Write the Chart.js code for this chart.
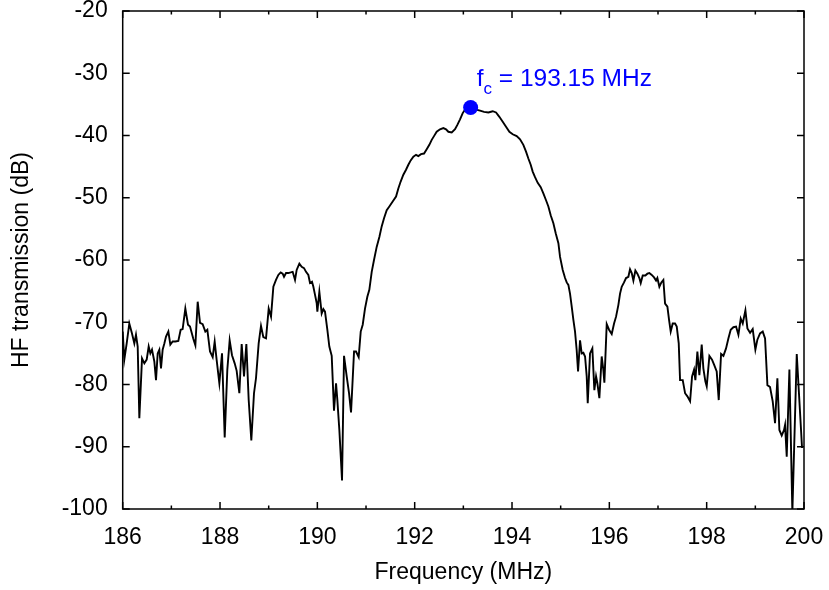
<!DOCTYPE html>
<html>
<head>
<meta charset="utf-8">
<script src="https://cdn.jsdelivr.net/npm/chart.js@4/dist/chart.umd.min.js"></script>
<style>
    html, body { margin: 0; padding: 0; background: #fff; }
    #wrap { width: 829px; height: 590px; position: relative; }
</style>
</head>
<body>
<div id="wrap"><canvas id="chart"></canvas></div>
<script>
// frequency sweep (MHz) and measured transmission (dB)
const freqMHz = [
    186.000, 186.033, 186.082, 186.136, 186.191, 186.239, 186.273, 186.308, 186.342, 186.397,
    186.445, 186.493, 186.534, 186.568, 186.602, 186.650, 186.684, 186.719, 186.753, 186.787,
    186.821, 186.856, 186.890, 186.938, 186.979, 187.027, 187.082,
    187.143, 187.191, 187.232, 187.287, 187.342, 187.383, 187.452, 187.493, 187.541, 187.589,
    187.643, 187.698, 187.739, 187.794, 187.849, 187.890, 187.931, 187.986, 188.041, 188.096,
    188.150, 188.198, 188.246, 188.301, 188.342, 188.397, 188.445, 188.493, 188.541, 188.589,
    188.643, 188.698, 188.739, 188.794, 188.842, 188.890, 188.945, 189.000, 189.048,
    189.096, 189.150, 189.198, 189.246, 189.287, 189.315, 189.356, 189.404, 189.452, 189.493,
    189.541, 189.575, 189.630, 189.678, 189.726, 189.767, 189.815, 189.849, 189.890, 189.918,
    189.952, 189.986,
    190.000, 190.041, 190.089, 190.123, 190.157, 190.205, 190.246, 190.295, 190.342, 190.384,
    190.411, 190.452, 190.507, 190.548, 190.603, 190.651, 190.692, 190.754, 190.795, 190.849,
    190.891, 190.932, 190.979, 191.027,
    191.068, 191.117, 191.164, 191.219, 191.274, 191.322, 191.370, 191.425, 191.479, 191.548,
    191.617, 191.664, 191.712, 191.767, 191.822, 191.870, 191.918, 191.973, 192.028, 192.075,
    192.130, 192.192, 192.247, 192.301, 192.350, 192.397, 192.452, 192.521, 192.589, 192.644,
    192.692, 192.761, 192.829, 192.877, 192.932, 192.987, 193.055, 193.137, 193.240, 193.343,
    193.425, 193.514, 193.603, 193.672, 193.740, 193.809, 193.877, 193.946, 194.014, 194.096,
    194.165, 194.233, 194.288, 194.336, 194.384, 194.425, 194.473, 194.528, 194.590, 194.644,
    194.699, 194.747, 194.795, 194.850, 194.898, 194.953, 194.987,
    195.042, 195.090, 195.124, 195.158, 195.192, 195.227, 195.261, 195.295, 195.329, 195.357,
    195.398, 195.432, 195.466, 195.501, 195.535, 195.556, 195.603, 195.651, 195.692, 195.727,
    195.754, 195.795, 195.843, 195.877, 195.898, 195.946, 195.994, 196.049, 196.097, 196.138,
    196.186, 196.220, 196.254, 196.302, 196.343, 196.391, 196.425, 196.460, 196.494, 196.535,
    196.576, 196.617, 196.645, 196.686, 196.740, 196.782, 196.823, 196.871, 196.919, 196.960,
    196.987, 197.028, 197.069, 197.110, 197.145, 197.193, 197.227, 197.261, 197.302, 197.350,
    197.385, 197.426, 197.453,
    197.508, 197.556, 197.604, 197.659, 197.700, 197.741, 197.768, 197.809, 197.850, 197.898,
    197.932, 197.973, 198.001, 198.056, 198.110, 198.152, 198.206, 198.248, 198.296, 198.344,
    198.398, 198.446, 198.494, 198.549, 198.604, 198.652, 198.700, 198.741, 198.796, 198.837,
    198.892, 198.946, 199.001, 199.042, 199.097, 199.152, 199.200,
    199.248, 199.302, 199.357, 199.405, 199.453, 199.494, 199.542, 199.590, 199.611, 199.645,
    199.700, 199.761, 199.851, 199.960
];
const transDb = [
    -71.5, -76.0, -73.4, -70.2, -71.8, -73.4, -72.0, -73.9, -85.4, -75.8,
    -76.6, -76.0, -73.9, -75.0, -74.4, -76.3, -79.3, -75.0, -74.4, -77.4,
    -74.4, -73.4, -72.3, -71.5, -73.6, -73.1, -73.1,
    -73.0, -71.2, -71.1, -67.8, -70.4, -70.7, -72.7, -73.7, -66.7, -70.1,
    -70.3, -71.5, -71.2, -74.7, -75.6, -73.1, -76.1, -79.8, -75.0, -88.5,
    -77.6, -72.9, -75.3, -76.6, -77.8, -81.4, -73.5, -78.7, -73.5, -82.5,
    -89.0, -81.4, -79.0, -73.4, -70.6, -72.4, -72.6, -67.8, -69.1,
    -64.3, -63.2, -62.4, -62.0, -62.2, -62.7, -62.1, -62.1, -62.0, -61.9,
    -63.2, -61.6, -60.6, -61.1, -61.3, -61.9, -62.4, -63.7, -63.5, -64.3,
    -65.6, -66.9,
    -68.3, -65.1, -68.6, -67.9, -68.3, -71.2, -73.9, -75.4, -84.2, -79.8,
    -82.5, -87.3, -95.4, -75.4, -78.7, -81.4, -84.5, -74.7, -74.7, -75.6,
    -71.5, -70.4, -67.8, -65.9,
    -64.8, -61.9, -60.0, -57.9, -56.3, -54.6, -53.3, -52.0, -51.4, -50.6,
    -49.8, -48.5, -47.4, -46.3, -45.5, -44.7, -44.0, -43.4, -43.1, -43.3,
    -43.0, -42.9, -42.2, -41.5, -40.7, -40.1, -39.4, -39.0, -38.8, -39.0,
    -39.4, -39.5, -39.0, -38.3, -37.4, -36.4, -35.6, -35.5, -35.8, -36.0,
    -36.2, -36.3, -36.1, -36.3, -37.0, -37.8, -38.6, -39.4, -39.8, -40.1,
    -40.6, -41.5, -42.6, -43.7, -44.7, -45.8, -46.7, -47.6, -48.3, -49.3,
    -50.4, -51.4, -52.8, -54.1, -55.7, -57.3, -59.5,
    -61.6, -62.9, -63.6, -64.0, -65.4, -67.5, -69.6, -71.5, -74.5, -77.9,
    -72.9, -75.0, -74.9, -75.5, -78.7, -83.0, -75.0, -74.2, -80.9, -78.7,
    -79.8, -82.2, -75.5, -77.7, -79.7, -70.3, -71.2, -71.9, -70.2, -69.1,
    -67.2, -65.4, -64.3, -63.6, -62.9, -62.7, -61.5, -62.1, -63.3, -61.7,
    -62.2, -62.9, -63.7, -62.5, -62.5, -62.2, -62.1, -62.4, -62.8, -63.3,
    -62.9, -64.3, -63.6, -63.2, -67.0, -67.5, -69.6, -71.5, -70.2, -70.2,
    -70.7, -73.4, -79.3,
    -79.3, -81.4, -81.9, -82.7, -78.7, -77.6, -79.3, -74.7, -78.5, -73.6,
    -77.4, -79.5, -80.3, -75.4, -76.0, -76.8, -77.9, -82.5, -75.1, -75.4,
    -74.2, -72.6, -71.2, -70.8, -70.7, -72.0, -69.4, -70.2, -68.1, -71.0,
    -71.7, -71.1, -74.4, -72.8, -71.8, -71.5, -72.6,
    -80.1, -80.4, -82.7, -86.2, -79.0, -87.3, -88.2, -87.3, -86.5, -91.6,
    -77.6, -100.5, -75.1, -90.2
];

// centre frequency marker
const peakFreq = 193.15;
const peakDb = -35.5;
const peakText = " = 193.15 MHz";

const xMin = 186, xMax = 200, xStep = 2, xMinorStep = 1;
const yMin = -100, yMax = -20, yStep = 10;

const FONT = "'Liberation Sans', Arial, Helvetica, sans-serif";
const BLUE = "#0000ff";

const points = freqMHz.map(function (f, i) { return { x: f, y: transDb[i] }; });

// gnuplot-like frame with inward ticks on all four sides
const framePlugin = {
    id: "frame",
    afterDatasetsDraw: function (chart) {
        const ctx = chart.ctx;
        const a = chart.chartArea;
        const xs = chart.scales.x, ys = chart.scales.y;
        ctx.save();
        ctx.strokeStyle = "#000";
        ctx.lineWidth = 1.5;
        ctx.beginPath();
        for (let v = xMin; v <= xMax; v += xMinorStep) {
            const px = xs.getPixelForValue(v);
            const len = (v - xMin) % xStep === 0 ? 7 : 3.5;
            ctx.moveTo(px, a.bottom); ctx.lineTo(px, a.bottom - len);
            ctx.moveTo(px, a.top); ctx.lineTo(px, a.top + len);
        }
        for (let v = yMin; v <= yMax; v += yStep) {
            const py = ys.getPixelForValue(v);
            ctx.moveTo(a.left, py); ctx.lineTo(a.left + 7, py);
            ctx.moveTo(a.right, py); ctx.lineTo(a.right - 7, py);
        }
        ctx.stroke();
        ctx.strokeRect(a.left, a.top, a.right - a.left, a.bottom - a.top);
        ctx.restore();
    }
};

// "f_c = 193.15 MHz" label next to the marker
const labelPlugin = {
    id: "peakLabel",
    afterDraw: function (chart) {
        const ctx = chart.ctx;
        const px = chart.scales.x.getPixelForValue(peakFreq) + 6;
        const py = chart.scales.y.getPixelForValue(peakDb) - 21;
        ctx.save();
        ctx.fillStyle = BLUE;
        ctx.textBaseline = "alphabetic";
        ctx.textAlign = "left";
        ctx.font = "24.5px " + FONT;
        ctx.fillText("f", px, py);
        let x = px + ctx.measureText("f").width;
        ctx.font = "17px " + FONT;
        ctx.fillText("c", x, py + 8);
        x += ctx.measureText("c").width;
        ctx.font = "24.5px " + FONT;
        ctx.fillText(peakText, x, py);
        ctx.restore();
    }
};

new Chart(document.getElementById("chart"), {
    type: "scatter",
    data: {
        datasets: [
            {
                label: "fc",
                data: [{ x: peakFreq, y: peakDb }],
                pointRadius: 7.5,
                pointBackgroundColor: BLUE,
                pointBorderColor: BLUE,
                borderWidth: 0,
                showLine: false,
                clip: false,
                order: 0
            },
            {
                label: "HF transmission",
                data: points,
                showLine: true,
                borderColor: "#000",
                borderWidth: 1.9,
                pointRadius: 0,
                tension: 0,
                order: 1
            }
        ]
    },
    options: {
        responsive: true,
        maintainAspectRatio: false,
        animation: false,
        devicePixelRatio: 1,
        layout: { padding: { top: 11, right: 25, bottom: 0, left: 0 } },
        plugins: {
            legend: { display: false },
            tooltip: { enabled: false }
        },
        scales: {
            x: {
                type: "linear",
                min: xMin,
                max: xMax,
                grid: { display: false, drawTicks: false },
                border: { display: false },
                ticks: {
                    stepSize: xStep,
                    color: "#000",
                    font: { family: FONT, size: 23 },
                    padding: 15,
                    maxRotation: 0,
                    autoSkip: false
                },
                title: {
                    display: true,
                    text: "Frequency (MHz)",
                    color: "#000",
                    font: { family: FONT, size: 23 },
                    padding: { top: 0, bottom: 4 }
                },
                afterFit: function (s) {
                    s.height = 81;
                    s.paddingLeft = 0;
                    s.paddingRight = 0;
                }
            },
            y: {
                min: yMin,
                max: yMax,
                grid: { display: false, drawTicks: false },
                border: { display: false },
                ticks: {
                    stepSize: yStep,
                    color: "#000",
                    font: { family: FONT, size: 23 },
                    padding: 15
                },
                title: {
                    display: true,
                    text: "HF transmission (dB)",
                    color: "#000",
                    font: { family: FONT, size: 23 },
                    padding: { top: 8, bottom: 0 }
                },
                afterFit: function (s) {
                    s.width = 122.7;
                    s.paddingTop = 0;
                    s.paddingBottom = 0;
                }
            }
        }
    },
    plugins: [framePlugin, labelPlugin]
});
</script>
</body>
</html>
